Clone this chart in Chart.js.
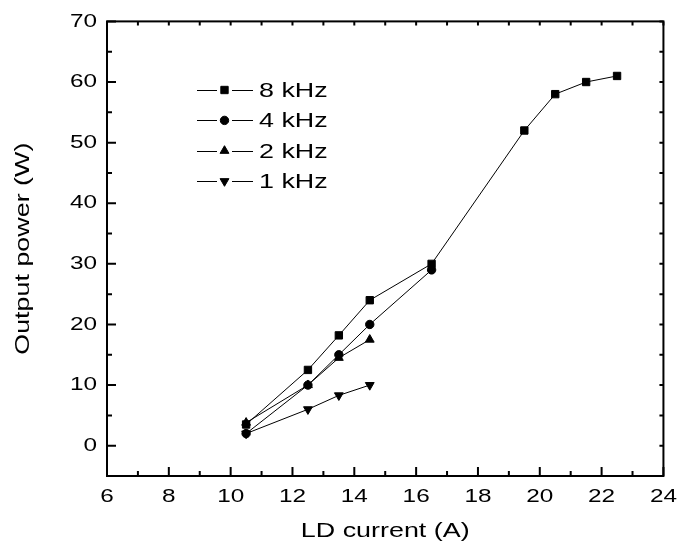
<!DOCTYPE html>
<html>
<head>
<meta charset="utf-8">
<script src="https://cdn.jsdelivr.net/npm/chart.js@4/dist/chart.umd.min.js"></script>
<style>
  html, body { margin: 0; padding: 0; background: #fff; }
  #wrap { width: 683px; height: 544px; position: relative; }
</style>
</head>
<body>
<div id="wrap"><canvas id="chart"></canvas></div>
<script>
// LD current (A) and output power (W) per repetition rate
const current8k = [10.5, 12.5, 13.5, 14.5, 16.5, 19.5, 20.5, 21.5, 22.5];
const power8k   = [3.5, 12.5, 18.2, 24, 30, 52, 58, 60, 61];
const current4k = [10.5, 12.5, 13.5, 14.5, 16.5];
const power4k   = [2, 10, 15, 20, 29];
const current2k = [10.5, 12.5, 13.5, 14.5];
const power2k   = [3.8, 10, 14.5, 17.5];
const current1k = [10.5, 12.5, 13.5, 14.5];
const power1k   = [2, 6, 8.3, 10];
const seriesNames = ['8 kHz', '4 kHz', '2 kHz', '1 kHz'];

// axis ticks
const xTicks = [6, 8, 10, 12, 14, 16, 18, 20, 22, 24];
const xMinor = [7, 9, 11, 13, 15, 17, 19, 21, 23];
const yTicks = [0, 10, 20, 30, 40, 50, 60, 70];
const yMinor = [5, 15, 25, 35, 45, 55, 65];

const FONT = "'Liberation Sans', Arial, sans-serif";
const TEXT_STRETCH = 1.28; // wide lettering: stretch glyphs along the reading direction

function pts(xs, ys) { return xs.map((x, i) => ({ x: x, y: ys[i] })); }

const markers = [
  { style: 'rect', radius: 5.2, rotation: 0 },
  { style: 'circle', radius: 4.2, rotation: 0 },
  { style: 'triangle', radius: 5.1, rotation: 0 },
  { style: 'triangle', radius: 5.1, rotation: 180 }
];
const seriesData = [pts(current8k, power8k), pts(current4k, power4k), pts(current2k, power2k), pts(current1k, power1k)];

const datasets = seriesNames.map((name, i) => ({
  label: name,
  data: seriesData[i],
  showLine: true,
  borderColor: '#000',
  backgroundColor: '#000',
  borderWidth: 1,
  pointStyle: markers[i].style,
  pointRadius: markers[i].radius,
  pointRotation: markers[i].rotation,
  pointBorderWidth: 1,
  pointBorderColor: '#000',
  pointBackgroundColor: '#000',
  pointHoverRadius: markers[i].radius,
  tension: 0
}));

const canvas = document.getElementById('chart');
const context = canvas.getContext('2d');
// every label is drawn horizontally widened around its anchor point
const baseFillText = context.fillText;
context.fillText = function (text, x, y, maxWidth) {
  this.save();
  this.translate(x, y);
  this.scale(TEXT_STRETCH, 1);
  baseFillText.call(this, text, 0, 0);
  this.restore();
};

function drawMarker(ctx, m, x, y) {
  const opts = { pointStyle: m.style, radius: m.radius, rotation: m.rotation, borderWidth: 1 };
  if (Chart.helpers && Chart.helpers.drawPoint) {
    Chart.helpers.drawPoint(ctx, opts, x, y);
    return;
  }
  ctx.beginPath();
  if (m.style === 'rect') {
    const s = m.radius * Math.SQRT1_2;
    ctx.rect(x - s, y - s, 2 * s, 2 * s);
  } else if (m.style === 'circle') {
    ctx.arc(x, y, m.radius, 0, Math.PI * 2);
  } else {
    const r = m.radius, rot = m.rotation * Math.PI / 180;
    for (let k = 0; k < 3; k++) {
      const a = rot + k * 2 * Math.PI / 3;
      const px = x + Math.sin(a) * r, py = y - Math.cos(a) * r;
      k ? ctx.lineTo(px, py) : ctx.moveTo(px, py);
    }
    ctx.closePath();
  }
  ctx.fill();
  ctx.stroke();
}

// boxed frame with inward ticks, and the inset legend
const framePlugin = {
  id: 'frameAndLegend',
  afterDraw(chart) {
    const ctx = chart.ctx;
    const a = chart.chartArea;
    const xs = chart.scales.x, ys = chart.scales.y;
    ctx.save();
    ctx.strokeStyle = '#000';
    ctx.lineWidth = 2;
    ctx.strokeRect(a.left, a.top, a.right - a.left, a.bottom - a.top);

    ctx.lineWidth = 2;
    ctx.beginPath();
    const tickX = (v, len, mirror) => {
      const px = xs.getPixelForValue(v);
      ctx.moveTo(px, a.bottom); ctx.lineTo(px, a.bottom - len);
      ctx.moveTo(px, a.top); ctx.lineTo(px, a.top + mirror);
    };
    const tickY = (v, len, mirror) => {
      const py = ys.getPixelForValue(v);
      ctx.moveTo(a.left, py); ctx.lineTo(a.left + len, py);
      ctx.moveTo(a.right, py); ctx.lineTo(a.right - mirror, py);
    };
    xTicks.forEach(v => tickX(v, 9, 4));
    xMinor.forEach(v => tickX(v, 5, 4));
    yTicks.forEach(v => tickY(v, 9, 4));
    yMinor.forEach(v => tickY(v, 5, 4));
    ctx.stroke();

    // legend
    ctx.lineWidth = 1;
    ctx.fillStyle = '#000';
    ctx.font = "21px " + FONT;
    ctx.textAlign = 'left';
    ctx.textBaseline = 'middle';
    seriesNames.forEach((name, i) => {
      const y = 90 + i * 30.4;
      const yl = Math.round(y) + 0.5;
      ctx.beginPath();
      ctx.moveTo(197, yl); ctx.lineTo(217, yl);
      ctx.moveTo(232, yl); ctx.lineTo(253, yl);
      ctx.stroke();
      drawMarker(ctx, markers[i], 224.5, y);
      ctx.fillText(name, 259, y + 1);
    });
    ctx.restore();
  }
};

new Chart(canvas, {
  type: 'line',
  data: { datasets: datasets },
  options: {
    responsive: true,
    maintainAspectRatio: false,
    animation: false,
    events: [],
    layout: { padding: { left: 0, right: 13, top: 17, bottom: 0 } },
    plugins: { legend: { display: false }, tooltip: { enabled: false } },
    scales: {
      x: {
        type: 'linear',
        min: 6, max: 24,
        afterBuildTicks: s => { s.ticks = xTicks.map(v => ({ value: v })); },
        afterFit: s => { s.height = 68; },
        grid: { display: false, drawTicks: false },
        border: { display: false },
        ticks: { color: '#000', padding: 9, maxRotation: 0, autoSkip: false, font: { family: FONT, size: 19 } },
        title: {
          display: true, text: 'LD current (A)', color: '#000',
          font: { family: FONT, size: 21 }, padding: { top: 2.4, bottom: 0 }
        }
      },
      y: {
        type: 'linear',
        min: -5, max: 70,
        afterBuildTicks: s => { s.ticks = yTicks.map(v => ({ value: v })); },
        afterFit: s => { s.width = 107; },
        grid: { display: false, drawTicks: false },
        border: { display: false },
        ticks: { color: '#000', padding: 10, font: { family: FONT, size: 19 } },
        title: {
          display: true, text: 'Output power (W)', color: '#000',
          font: { family: FONT, size: 21 }, padding: { top: 10.4, bottom: 0 }
        }
      }
    }
  },
  plugins: [framePlugin]
});
</script>
</body>
</html>
